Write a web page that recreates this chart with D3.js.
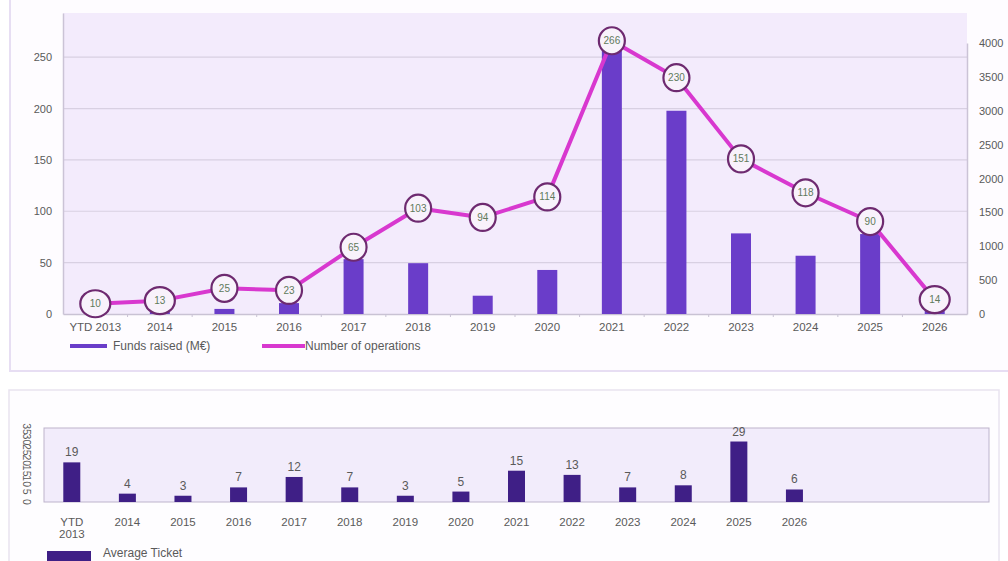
<!DOCTYPE html>
<html>
<head>
<meta charset="utf-8">
<script src="https://cdn.jsdelivr.net/npm/d3@7/dist/d3.min.js"></script>
<style>
  html, body { margin: 0; padding: 0; background: #ffffff; }
  svg { display: block; font-family: "Liberation Sans", Arial, sans-serif; }
</style>
</head>
<body>
<svg id="chart" width="1008" height="561"></svg>
<script>
// Years on the category axis
const years = ["YTD 2013", "2014", "2015", "2016", "2017", "2018", "2019",
               "2020", "2021", "2022", "2023", "2024", "2025", "2026"];
// Number of operations per year (left axis)
const operations = [10, 13, 25, 23, 65, 103, 94, 114, 266, 230, 151, 118, 90, 14];
// Funds raised per year (right axis)
const fundsRaised = [190, 52, 75, 161, 810, 750, 270, 650, 3990, 3000, 1190, 860, 1180, 84];
// Average ticket per year
const avgTicket = [19, 4, 3, 7, 12, 7, 3, 5, 15, 13, 7, 8, 29, 6];
// Axis tick values
const leftTicks = [0, 50, 100, 150, 200, 250];
const rightTicks = [0, 500, 1000, 1500, 2000, 2500, 3000, 3500, 4000];
const ticketTicks = [0, 5, 10, 15, 20, 25, 30, 35];

const svg = d3.select("#chart");
const textCol = "#5a5a5a";

// ---------- Upper panel: funds raised + number of operations ----------
svg.append("rect")
  .attr("x", 10).attr("y", -10).attr("width", 1010).attr("height", 381)
  .attr("fill", "#fefcff").attr("stroke", "#e7def3").attr("stroke-width", 2);

const upper = { left: 63, right: 967, top: 13, bottom: 314 };

const x = d3.scaleBand().domain(years).range([upper.left, upper.right]).padding(0);
const yL = d3.scaleLinear().domain([0, 293]).range([upper.bottom, upper.top]);
const yR = d3.scaleLinear().domain([0, 4000]).range([upper.bottom, 43]);

svg.append("rect")
  .attr("x", upper.left).attr("y", upper.top)
  .attr("width", upper.right - upper.left).attr("height", upper.bottom - upper.top)
  .attr("fill", "#f3ebfc");

// horizontal grid
svg.append("g").selectAll("line")
  .data(leftTicks.filter(d => d > 0))
  .join("line")
  .attr("x1", upper.left).attr("x2", upper.right)
  .attr("y1", d => yL(d)).attr("y2", d => yL(d))
  .attr("stroke", "#d8d0e2").attr("stroke-width", 1.2);

// left axis
const axL = svg.append("g").attr("transform", `translate(${upper.left},0)`)
  .call(d3.axisLeft(yL).tickValues(leftTicks).tickSize(0).tickPadding(11));
axL.select(".domain").attr("stroke", "#cbc3d6").attr("stroke-width", 1.5);
axL.selectAll("text").attr("fill", textCol).style("font-size", "11px");

// right axis
const axR = svg.append("g").attr("transform", `translate(${upper.right},0)`)
  .call(d3.axisRight(yR).tickValues(rightTicks).tickSize(0).tickPadding(12)
        .tickFormat(d3.format("d")));
axR.select(".domain").attr("stroke", "#cbc3d6").attr("stroke-width", 1.5);
axR.selectAll("text").attr("fill", textCol).style("font-size", "11px");

// bottom axis
const axB = svg.append("g").attr("transform", `translate(0,${upper.bottom})`)
  .call(d3.axisBottom(x).tickSize(0).tickPadding(9));
axB.select(".domain").attr("stroke", "#c9c2d4").attr("stroke-width", 1.5);
axB.selectAll("text").attr("fill", textCol).style("font-size", "11.5px");
svg.append("g").selectAll("line")
  .data(years.slice(1))
  .join("line")
  .attr("x1", d => x(d)).attr("x2", d => x(d))
  .attr("y1", upper.bottom).attr("y2", upper.bottom + 3)
  .attr("stroke", "#c9c2d4");

// funds raised bars
const barW = 20;
svg.append("g").selectAll("rect")
  .data(years.map((y, i) => ({ y, v: fundsRaised[i] })))
  .join("rect")
  .attr("x", d => x(d.y) + x.bandwidth() / 2 - barW / 2)
  .attr("y", d => yR(d.v))
  .attr("width", barW)
  .attr("height", d => yR(0) - yR(d.v))
  .attr("fill", "#6a3dc9");

// operations line
const pts = years.map((y, i) => ({ y, v: operations[i] }));
svg.append("path")
  .datum(pts)
  .attr("fill", "none")
  .attr("stroke", "#d838cf")
  .attr("stroke-width", 4)
  .attr("stroke-linejoin", "round")
  .attr("d", d3.line().x(d => x(d.y) + x.bandwidth() / 2).y(d => yL(d.v)));

const mk = svg.append("g").selectAll("g").data(pts).join("g")
  .attr("transform", d => `translate(${x(d.y) + x.bandwidth() / 2},${yL(d.v)})`);
mk.append("ellipse")
  .attr("rx", d => d.v < 20 ? 15 : 13).attr("ry", 13.5)
  .attr("fill", "#f8f2fb").attr("stroke", "#6e2a70").attr("stroke-width", 2.2);
mk.append("text")
  .attr("text-anchor", "middle").attr("dy", "0.35em")
  .attr("fill", "#5f7a5c").style("font-size", "10px")
  .text(d => d.v);

// upper legend
const lg = svg.append("g");
lg.append("rect").attr("x", 70).attr("y", 344).attr("width", 37).attr("height", 4).attr("fill", "#6a3dc9");
lg.append("text").attr("x", 113).attr("y", 350).attr("fill", textCol)
  .style("font-size", "12px").text("Funds raised (M€)");
lg.append("rect").attr("x", 262).attr("y", 344).attr("width", 43).attr("height", 4).attr("fill", "#d838cf");
lg.append("text").attr("x", 305).attr("y", 350).attr("fill", textCol)
  .style("font-size", "12px").text("Number of operations");

// ---------- Lower panel: average ticket ----------
svg.append("rect")
  .attr("x", 9).attr("y", 390).attr("width", 990).attr("height", 190)
  .attr("fill", "#fefdff").attr("stroke", "#e9e3f0").attr("stroke-width", 1.5);

const lower = { left: 44, right: 989, top: 428, bottom: 502 };
const step = (lower.right - lower.left) / 17;
const x2 = d3.scaleBand().domain(years).range([lower.left, lower.left + step * years.length]).padding(0);
const y2 = d3.scaleLinear().domain([0, 35]).range([lower.bottom, 429]);

svg.append("rect")
  .attr("x", lower.left).attr("y", lower.top)
  .attr("width", lower.right - lower.left).attr("height", lower.bottom - lower.top)
  .attr("fill", "#f2ecfb").attr("stroke", "#bdb4cc").attr("stroke-width", 1);

// compressed vertical tick labels
svg.append("g").selectAll("text")
  .data(ticketTicks)
  .join("text")
  .attr("transform", d => `translate(27,${y2(d)}) rotate(90)`)
  .attr("text-anchor", "middle").attr("dy", "0.35em")
  .attr("fill", textCol).style("font-size", "10.5px")
  .text(d => d);

const bw2 = 17;
const tk = years.map((y, i) => ({ y, v: avgTicket[i] }));
svg.append("g").selectAll("rect")
  .data(tk).join("rect")
  .attr("x", d => x2(d.y) + x2.bandwidth() / 2 - bw2 / 2)
  .attr("y", d => y2(d.v))
  .attr("width", bw2)
  .attr("height", d => y2(0) - y2(d.v))
  .attr("fill", "#3f1f86");

svg.append("g").selectAll("text")
  .data(tk).join("text")
  .attr("x", d => x2(d.y) + x2.bandwidth() / 2)
  .attr("y", d => y2(d.v) - 6)
  .attr("text-anchor", "middle")
  .attr("fill", textCol).style("font-size", "12px")
  .text(d => d.v);

// category labels, the first one split on two lines
const xl = svg.append("g").selectAll("text")
  .data(years).join("text")
  .attr("x", d => x2(d) + x2.bandwidth() / 2)
  .attr("y", 526)
  .attr("text-anchor", "middle")
  .attr("fill", textCol).style("font-size", "11.5px");
xl.each(function (d) {
  const parts = d.split(" ");
  const t = d3.select(this);
  parts.forEach((p, i) => {
    t.append("tspan").attr("x", x2(d) + x2.bandwidth() / 2).attr("dy", i === 0 ? 0 : 12).text(p);
  });
});

// lower legend
svg.append("rect").attr("x", 47).attr("y", 551).attr("width", 44).attr("height", 12).attr("fill", "#3f1f86");
svg.append("text").attr("x", 103).attr("y", 557).attr("fill", textCol)
  .style("font-size", "12px").text("Average Ticket");
</script>
</body>
</html>
